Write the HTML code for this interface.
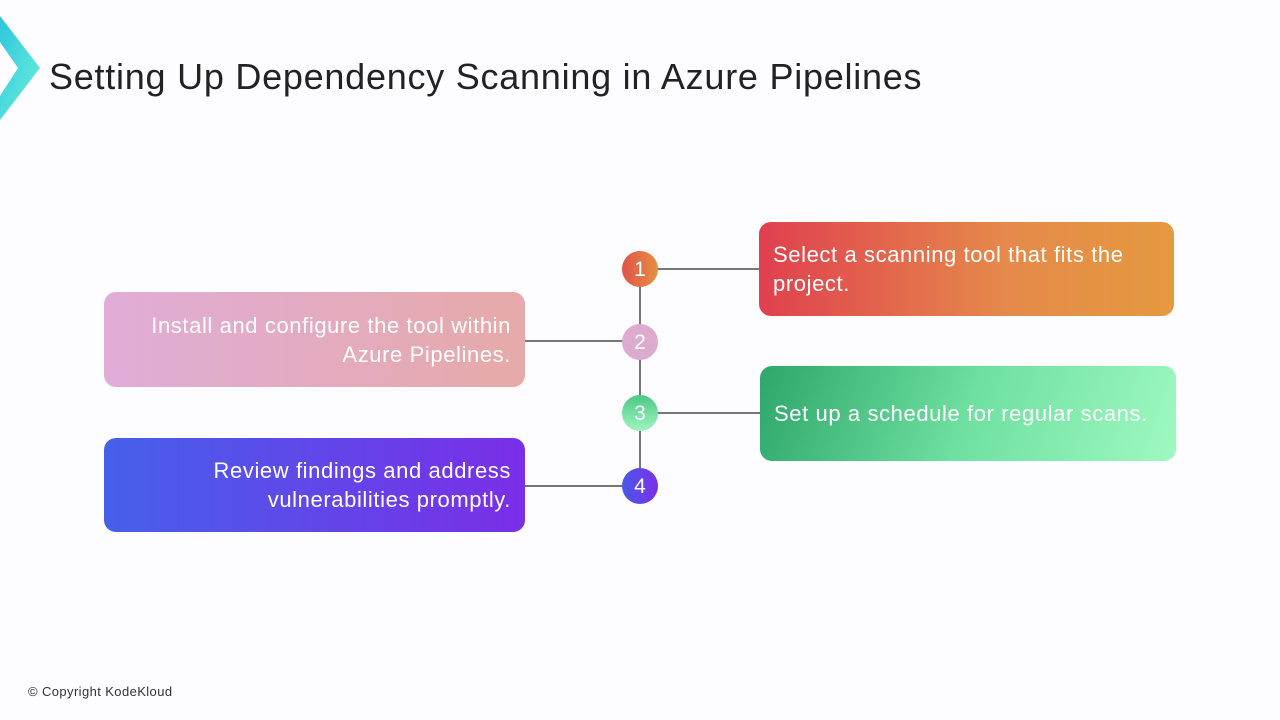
<!DOCTYPE html>
<html><head><style>
body{margin:0;width:1280px;height:720px;background:#fdfcfe;position:relative;overflow:hidden;font-family:"Liberation Sans",sans-serif}
.t{position:absolute;left:49px;top:56px;font-size:36px;color:#222;letter-spacing:0.75px}
.box{position:absolute;border-radius:12px;color:#fff;font-size:22px;line-height:29px;letter-spacing:0.6px;box-sizing:border-box;display:flex;align-items:center;padding:0 14px}
.c{position:absolute;width:36px;height:36px;border-radius:50%;color:#fff;font-size:21px;text-align:center;line-height:38px}
.l{position:absolute;background:#777}
.cp{position:absolute;left:28px;top:684px;font-size:13px;color:#333;letter-spacing:0.4px}
</style></head><body>
<svg style="position:absolute;left:0;top:0" width="60" height="130"><defs><linearGradient id="g" x1="0" y1="0" x2="1" y2="1"><stop offset="0" stop-color="#2cc6dc"/><stop offset="1" stop-color="#6ff0dc"/></linearGradient></defs><polygon points="0,16 40,68 0,120 0,96 18,68 0,42" fill="url(#g)"/></svg>
<div class="t">Setting Up Dependency Scanning in Azure Pipelines</div>
<div class="l" style="left:639px;top:269px;width:2px;height:217px"></div>
<div class="l" style="left:640px;top:268px;width:120px;height:2px"></div>
<div class="l" style="left:524px;top:340px;width:116px;height:2px"></div>
<div class="l" style="left:640px;top:412px;width:120px;height:2px"></div>
<div class="l" style="left:524px;top:485px;width:116px;height:2px"></div>
<div class="box" style="left:759px;top:222px;width:415px;height:94px;background:linear-gradient(90deg,#e0404f,#e58a4a 60%,#e5993f)">Select a scanning tool that fits the project.</div>
<div class="box" style="left:104px;top:292px;width:421px;height:95px;background:linear-gradient(90deg,#e1acd8,#e6aaa8);justify-content:flex-end;text-align:right">Install and configure the tool within Azure Pipelines.</div>
<div class="box" style="left:760px;top:366px;width:416px;height:95px;background:linear-gradient(110deg,#2ea66a,#6ee0a0 50%,#9ff9c0)">Set up a schedule for regular scans.</div>
<div class="box" style="left:104px;top:438px;width:421px;height:94px;background:linear-gradient(90deg,#4660ea,#7a2ee8);justify-content:flex-end;text-align:right">Review findings and address vulnerabilities promptly.</div>
<div class="c" style="left:622px;top:251px;background:linear-gradient(90deg,#e0524a,#e59040)">1</div>
<div class="c" style="left:622px;top:324px;background:#ddaad0">2</div>
<div class="c" style="left:622px;top:395px;background:linear-gradient(180deg,#4cc884,#9ef5bd)">3</div>
<div class="c" style="left:622px;top:468px;background:linear-gradient(90deg,#4a58ea,#7b30e6)">4</div>
<div class="cp">© Copyright KodeKloud</div>
</body></html>
